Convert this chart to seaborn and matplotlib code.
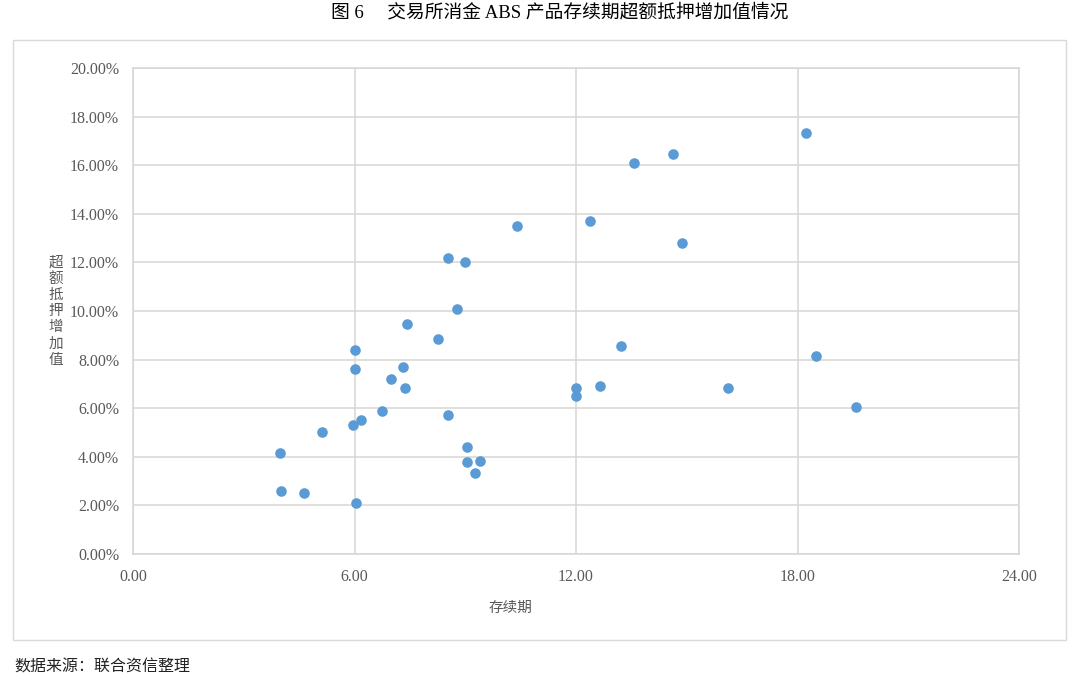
import matplotlib
matplotlib.use("Agg")
import matplotlib.pyplot as plt
import seaborn as sns
import pandas as pd
from matplotlib.patches import Rectangle
from matplotlib.ticker import FuncFormatter, MultipleLocator

# Data
duration = [3.98, 4.00, 4.63, 5.12, 6.02, 6.02, 5.96, 6.18, 6.04, 6.75,
            6.99, 7.32, 7.36, 7.43, 8.27, 8.54, 8.54, 8.78, 8.99, 9.05,
            9.05, 9.41, 9.26, 10.41, 12.00, 12.00, 12.38, 12.66, 13.22, 13.58,
            14.63, 14.88, 16.12, 18.24, 18.51, 19.59]
excess_oc = [4.16, 2.60, 2.50, 5.02, 8.40, 7.62, 5.31, 5.51, 2.10, 5.90,
             7.20, 7.70, 6.83, 9.48, 8.85, 12.17, 5.70, 10.10, 12.02, 4.40,
             3.79, 3.82, 3.34, 13.50, 6.85, 6.50, 13.72, 6.91, 8.57, 16.07,
             16.46, 12.78, 6.83, 17.32, 8.15, 6.05]

title = "图 6　 交易所消金 ABS 产品存续期超额抵押增加值情况"
xlabel = "存续期"
ylabel = "超额抵押增加值"
source = "数据来源：联合资信整理"

df = pd.DataFrame({"duration": duration, "oc": excess_oc})

sns.set_theme(style="white")
plt.rcParams["font.family"] = ["Liberation Serif", "Noto Sans CJK SC", "DejaVu Sans"]

fig = plt.figure(figsize=(10.8, 6.79), dpi=100)
ax = fig.add_axes([133 / 1080, 1 - 554 / 679, (1019 - 133) / 1080, (554 - 68) / 679])

grid_c = "#D9D6D2"
sns.scatterplot(data=df, x="duration", y="oc", ax=ax, color="#5B9BD5",
                s=58, linewidth=0, zorder=3)

ax.set_xlim(0, 24)
ax.set_ylim(0, 20)
ax.xaxis.set_major_locator(MultipleLocator(6))
ax.yaxis.set_major_locator(MultipleLocator(2))
ax.xaxis.set_major_formatter(FuncFormatter(lambda v, p: f"{v:.2f}"))
ax.yaxis.set_major_formatter(FuncFormatter(lambda v, p: f"{v:.2f}%"))
ax.grid(True, color=grid_c, linewidth=1.1, zorder=0)
ax.set_axisbelow(True)
for s in ax.spines.values():
    s.set_color(grid_c)
    s.set_linewidth(1.1)
ax.tick_params(axis="both", length=0, labelsize=11.5, labelcolor="#595959")
ax.tick_params(axis="y", pad=10)
ax.tick_params(axis="x", pad=11)
for lab in ax.get_xticklabels() + ax.get_yticklabels():
    lab.set_family("Liberation Serif")
ax.set_xlabel("")
ax.set_ylabel("")

fig.text(511 / 1080, 1 - 608 / 679, xlabel, ha="center", va="center",
         fontsize=10.5, color="#595959", family=["Noto Sans CJK SC"])
fig.text(56 / 1080, 1 - 311 / 679, "\n".join(ylabel), ha="center", va="center",
         fontsize=10.5, color="#595959", family=["Noto Sans CJK SC"], linespacing=1.2)

fig.text(560 / 1080, 1 - 13 / 679, title, ha="center", va="center",
         fontsize=13.5, color="#000000",
         family=["Liberation Serif", "Noto Sans CJK SC"])
fig.text(14 / 1080, 1 - 667 / 679, source, ha="left", va="center",
         fontsize=11.5, color="#222222", family=["Noto Sans CJK SC"])

fig.patches.append(Rectangle((13 / 1080, 1 - 640 / 679), (1066 - 13) / 1080, 600 / 679,
                             transform=fig.transFigure, fill=False,
                             edgecolor="#D9D9D9", linewidth=1.0))

fig.savefig("out.png", dpi=100)
